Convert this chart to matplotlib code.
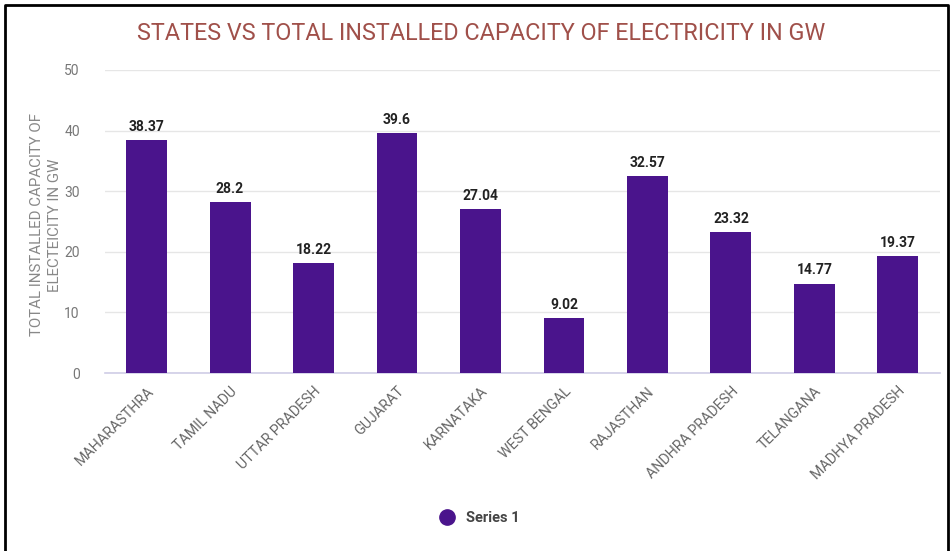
import matplotlib.pyplot as plt
from matplotlib.lines import Line2D

states = ["MAHARASTHRA", "TAMIL NADU", "UTTAR PRADESH", "GUJARAT", "KARNATAKA",
          "WEST BENGAL", "RAJASTHAN", "ANDHRA PRADESH", "TELANGANA", "MADHYA PRADESH"]
capacity = [38.37, 28.2, 18.22, 39.6, 27.04, 9.02, 32.57, 23.32, 14.77, 19.37]
yticks = [0, 10, 20, 30, 40, 50]
ylabel_lines = ["TOTAL INSTALLED CAPACITY OF", "ELECTEICITY IN GW"]

plt.rcParams["font.family"] = ["Roboto", "DejaVu Sans"]

bar_color = "#4a148c"
fig = plt.figure(figsize=(9.53, 5.51), dpi=100)
ax = fig.add_axes([0.110, 0.323, 0.876, 0.550])

x = range(len(states))
bars = ax.bar(x, capacity, width=0.49, color=bar_color, zorder=3)
for b, v in zip(bars, capacity):
    ax.text(b.get_x() + b.get_width() / 2, v + 1.0, f"{v:g}", ha="center", va="bottom",
            fontsize=10, fontweight="bold", color="#222222")

ax.set_xlim(-0.5, len(states) - 0.5)
ax.set_ylim(0, 50)
ax.set_yticks(yticks)
ax.set_xticks(list(x))
ax.set_xticklabels(states, rotation=45, ha="right", rotation_mode="anchor",
                   fontsize=10.3, color="#666666")
ax.tick_params(axis="y", labelsize=10, colors="#777777", length=0, pad=18)
ax.tick_params(axis="x", length=0, pad=8)
ax.grid(axis="y", color="#e6e6e6", linewidth=1, zorder=0)
for s in ["top", "right", "left"]:
    ax.spines[s].set_visible(False)
ax.spines["bottom"].set_color("#cfcde6")
ax.spines["bottom"].set_linewidth(1.2)

# y axis title: two lines, each centred on the same point
for i, line in enumerate(ylabel_lines):
    fig.text((37 + i * 18) / 953, 1 - 225 / 551, line, rotation=90,
             ha="center", va="center", fontsize=10.8, color="#888888")

fig.text(0.505, 0.94, "STATES VS TOTAL INSTALLED CAPACITY OF ELECTRICITY IN GW",
         ha="center", va="center", fontsize=16.8, color="#a0504a")

handle = Line2D([], [], marker="o", linestyle="", markersize=11, color=bar_color)
leg = fig.legend([handle], ["Series 1"], loc="center", bbox_to_anchor=(0.5, 0.06),
                 frameon=False, handletextpad=0.3, prop={"weight": "bold", "size": 10.5})
for t in leg.get_texts():
    t.set_color("#444444")

# frame around the screenshot
W, H = 953, 551
fx = [5 / W, 5 / W, 948 / W, 948 / W]
fy = [0, 1 - 5 / H, 1 - 5 / H, 0]
fig.add_artist(Line2D(fx, fy, transform=fig.transFigure, color="black", linewidth=2))

fig.savefig("out.png", dpi=100)
